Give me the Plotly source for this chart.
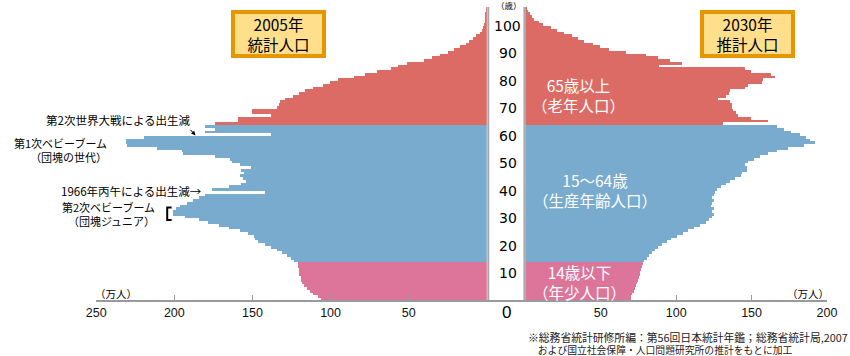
import plotly.graph_objects as go

W, H = 850, 356
def px(x): return x / W
def py(y): return 1 - y / H

# ---------------- data (万人, by single age 0..107) ----------------
ages = list(range(108))

pop_2005 = [
    # 0-14
    104, 106, 108, 111, 113, 115, 117, 118, 119, 119, 120, 120, 120, 121, 121,
    # 15-64
    123, 125, 128, 131, 134, 138, 142, 146, 148, 149,
    153, 158, 165, 171, 178, 184, 193, 201, 201, 199,
    196, 192, 188, 184, 180, 142, 176, 165, 157, 154,
    156, 158, 155, 157, 151, 158, 163, 164, 174, 194,
    195, 211, 230, 231, 231, 219, 138, 180, 174, 180,
    # 65-107
    174, 159, 159, 138, 150, 150, 134, 133, 132, 129,
    124, 120, 116, 111, 105, 100, 95, 85, 78, 70,
    61, 57, 51, 40, 35, 30, 25, 21, 17, 13.5,
    11, 8.5, 6.5, 4.5, 3.2, 2.2, 1.6, 1.2, 0.9, 0.7,
    0.5, 0.35, 0.2]

pop_2030 = [
    # 0-14
    69, 70, 70.5, 71, 72, 73, 73.5, 74, 75, 75.5, 76, 76.5, 77, 77.5, 78,
    # 15-64
    79, 81, 82, 84, 86, 88, 91, 94, 97, 101,
    105, 108, 112, 116, 120, 122, 124, 125, 124, 125,
    123, 124, 125, 124, 125, 126, 127, 130, 133, 136,
    139, 143, 144, 147, 147, 146, 148, 152, 156, 161,
    167, 174, 185, 192, 189, 186, 182, 176, 172, 167,
    # 65-107
    131, 161, 150, 141, 140, 138, 137, 137, 136, 128,
    133, 135, 136, 146, 148, 157, 158, 166, 163, 150,
    146, 89, 104, 96, 88, 80, 67, 56, 50, 45,
    39, 35, 31, 26, 21, 17, 12, 9, 6, 4.5,
    3.5, 2.2, 1.2]

left_ticks = [50, 100, 150, 200, 250]
right_ticks = [50, 100, 150, 200]
age_ticks = [10, 20, 30, 40, 50, 60, 70, 80, 90, 100]

C_RED, C_BLUE, C_PINK = "#dc6b66", "#79abcf", "#dc7599"
def color_for(a):
    if a < 15:
        return C_PINK
    if a < 65:
        return C_BLUE
    return C_RED
colors = [color_for(a) for a in ages]
ycent = [a + 0.5 for a in ages]

fig = go.Figure()
fig.add_trace(go.Bar(orientation="h", x=pop_2005, y=ycent, width=1,
                     marker=dict(color=colors, line=dict(width=0)),
                     xaxis="x", yaxis="y", hoverinfo="skip"))
fig.add_trace(go.Bar(orientation="h", x=pop_2030, y=ycent, width=1,
                     marker=dict(color=colors, line=dict(width=0)),
                     xaxis="x2", yaxis="y", hoverinfo="skip"))

AX_COL = "#9a9a9a"
TICKFONT = dict(family="Liberation Sans, Arial", size=12.5, color="#111")
JP = "Noto Sans CJK JP"

y_bot_px, y_top_px = 300, 4
age0_px, ppy = 303.5, 2.746
yr = [(age0_px - y_bot_px) / ppy, (age0_px - y_top_px) / ppy]

fig.update_layout(
    width=W, height=H, margin=dict(l=0, r=0, t=0, b=0),
    paper_bgcolor="white", plot_bgcolor="white",
    showlegend=False, barmode="overlay", bargap=0,
    xaxis=dict(domain=[px(88.3), px(488.3)], range=[250, 0], anchor="y",
               tickvals=left_ticks, ticktext=[str(v) for v in left_ticks],
               ticks="inside", ticklen=5, tickwidth=1, tickcolor=AX_COL,
               showline=True, linecolor=AX_COL, linewidth=2,
               showgrid=False, zeroline=False, tickfont=TICKFONT,
               ticklabelstandoff=0, fixedrange=True),
    xaxis2=dict(domain=[px(527.7), px(836.7)], range=[0, 200], anchor="y",
                tickvals=right_ticks, ticktext=[str(v) for v in right_ticks],
                ticks="inside", ticklen=5, tickwidth=1, tickcolor=AX_COL,
                showline=True, linecolor=AX_COL, linewidth=2,
                showgrid=False, zeroline=False, tickfont=TICKFONT,
                ticklabelstandoff=0, fixedrange=True),
    yaxis=dict(domain=[py(y_bot_px), py(y_top_px)], range=yr, anchor="x",
               visible=False, fixedrange=True),
)

shapes = []
# centre column borders and bottom joint
for xx in (489.8, 526.8):
    shapes.append(dict(type="line", xref="paper", yref="paper",
                       x0=px(xx), x1=px(xx), y0=py(7), y1=py(301),
                       line=dict(color="#a9a9a9", width=2)))
shapes.append(dict(type="line", xref="paper", yref="paper",
                   x0=px(488), x1=px(529), y0=py(301), y1=py(301),
                   line=dict(color=AX_COL, width=2)))

# bracket for 2nd baby boom
shapes.append(dict(type="path", xref="paper", yref="paper",
                   path=f"M {px(165.5)},{py(207.5)} L {px(161)},{py(207.5)} L {px(161)},{py(220)} L {px(165.5)},{py(220)}",
                   line=dict(color="black", width=2)))

fig.update_layout(shapes=shapes)

ann = []
def T(text, x, y, size, color="black", family=JP, xanchor="center", align="center",
      yanchor="middle"):
    ann.append(dict(text=text, x=px(x), y=py(y), xref="paper", yref="paper",
                    showarrow=False, xanchor=xanchor, yanchor=yanchor, align=align,
                    font=dict(family=family, size=size, color=color)))

# title boxes (annotation with its own border box)
for txt, cx in (("2005年<br>統計人口", 274.5), ("2030年<br>推計人口", 754.8)):
    ann.append(dict(text=txt, x=px(cx), y=py(34), xref="paper", yref="paper",
                    showarrow=False, xanchor="center", yanchor="middle",
                    width=87, height=40, borderpad=0, borderwidth=4,
                    bordercolor="#e69600", bgcolor="#ffdf8c",
                    font=dict(family=JP, size=15.5, color="black")))

# group labels (white)
T("65歳以上<br>（老年人口）", 582.5, 94.5, 15.5, "white")
T("15〜64歳<br>（生産年齢人口）", 599.5, 190, 15.5, "white")
T("14歳以下<br>（年少人口）", 583, 282, 15.5, "white")

# notes on the left
T("第2次世界大戦による出生減", 187, 120, 11.5, xanchor="right")
T("第1次ベビーブーム<br>（団塊の世代）", 101, 149.5, 11, xanchor="right", align="right")
T("1966年丙午による出生減→", 199, 190.8, 11.5, xanchor="right")
T("第2次ベビーブーム<br>（団塊ジュニア）", 151, 214, 11, xanchor="right", align="right")
ann.append(dict(text=" ", x=px(190), y=py(135.5), xref="paper", yref="paper",
                ax=-7, ay=-8, showarrow=True, arrowhead=2, arrowsize=0.9,
                arrowwidth=1, arrowcolor="black", font=dict(size=4)))

# units and axis zero
T("（万人）", 109, 293.5, 10.5)
T("（万人）", 817.5, 293.5, 10.5)
T("0", 508.5, 312, 17, family="Liberation Sans, Arial")
T("（歳）", 511, 5, 8.5)

# age labels in the centre column (placed on the bar age scale)
for v in age_ticks:
    ann.append(dict(text=str(v), x=px(509.5), y=v + 1.1, xref="paper", yref="y",
                    showarrow=False, xanchor="center", yanchor="middle",
                    font=dict(family="DejaVu Sans", size=14, color="black")))

# source note
T('<span style="font-size:10.8px">※総務省統計研修所編：第56回日本統計年鑑；総務省統計局,2007</span><br>'
  '<span style="font-size:9.8px">　および国立社会保障・人口問題研究所の推計をもとに加工</span>',
  528, 342.5, 9.5, color="#222", xanchor="left", align="left")

fig.update_layout(annotations=ann)
fig.write_html("out.html")
